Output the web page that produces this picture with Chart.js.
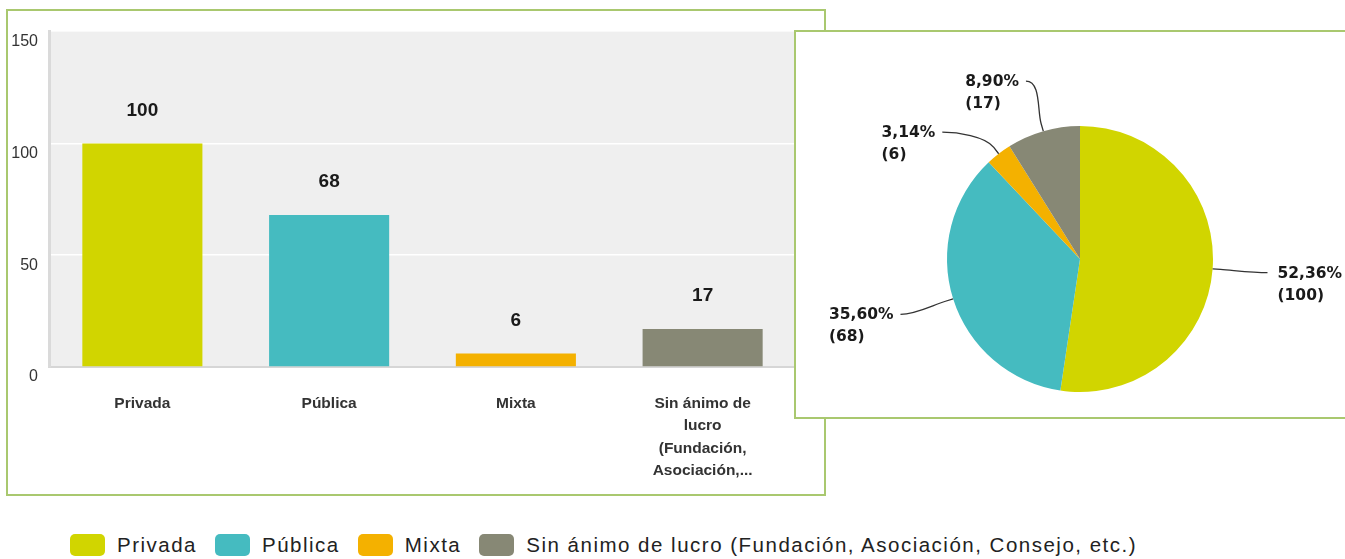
<!DOCTYPE html>
<html>
<head>
<meta charset="utf-8">
<script src="https://cdn.jsdelivr.net/npm/chart.js@4.4.1/dist/chart.umd.min.js"></script>
<style>
  html, body {
    margin: 0;
    padding: 0;
    width: 1345px;
    height: 559px;
    overflow: hidden;
    background: #fff;
    position: relative;
    font-family: "Liberation Sans", Arial, sans-serif;
  }
  .box {
    position: absolute;
    border: 2px solid #a9c86f;
    background: #fff;
  }
  #barBox { left: 6px; top: 9px; width: 816px; height: 483px; }
  #pieBox { left: 794px; top: 30px; width: 600px; height: 385px; }
  canvas { display: block; }
  #legend {
    position: absolute;
    left: 70px;
    top: 534px;
    display: flex;
    align-items: center;
    white-space: nowrap;
  }
  .item { display: flex; align-items: center; margin-right: 18px; }
  .swatch { width: 35px; height: 22px; border-radius: 5px; margin-right: 12px; }
  .label { font-size: 20.5px; letter-spacing: 1.5px; color: #222; line-height: 22px; }
</style>
</head>
<body>
<div class="box" id="barBox"><canvas id="barChart" width="816" height="483"></canvas></div>
<div class="box" id="pieBox"><canvas id="pieChart" width="549" height="383"></canvas></div>
<div id="legend"></div>

<script>
// datos
const categories = ["Privada", "Pública", "Mixta", "Sin ánimo de lucro (Fundación, Asociación, Consejo, etc.)"];
const axisLabels = [["Privada"], ["Pública"], ["Mixta"], ["Sin ánimo de", "lucro", "(Fundación,", "Asociación,..."]];
const counts = [100, 68, 6, 17];
const colors = ["#d1d500", "#45bbc0", "#f4b100", "#878875"];
const yTicks = [0, 50, 100, 150];

const total = counts.reduce((s, v) => s + v, 0);

// leyenda
const legend = document.getElementById("legend");
categories.forEach((name, i) => {
  const item = document.createElement("div");
  item.className = "item";
  item.innerHTML = `<div class="swatch" style="background:${colors[i]}"></div><span class="label">${name}</span>`;
  legend.appendChild(item);
});

// fondo gris del área de trazado
const plotBackground = {
  id: "plotBackground",
  beforeDraw(chart) {
    const { ctx, chartArea } = chart;
    ctx.save();
    ctx.fillStyle = "#efefef";
    ctx.fillRect(chartArea.left, chartArea.top, chartArea.right - chartArea.left, chartArea.bottom - chartArea.top);
    ctx.restore();
  },
};

// valores encima de las barras
const barValues = {
  id: "barValues",
  afterDatasetsDraw(chart) {
    const { ctx } = chart;
    const meta = chart.getDatasetMeta(0);
    ctx.save();
    ctx.font = "bold 19px 'Liberation Sans', Arial, sans-serif";
    ctx.fillStyle = "#1a1a1a";
    ctx.textAlign = "center";
    ctx.textBaseline = "middle";
    meta.data.forEach((bar, i) => {
      ctx.fillText(String(counts[i]), bar.x, bar.y - 33);
    });
    ctx.restore();
  },
};

new Chart(document.getElementById("barChart"), {
  type: "bar",
  data: {
    labels: axisLabels,
    datasets: [{
      data: counts,
      backgroundColor: colors,
      borderWidth: 0,
      barPercentage: 0.643,
      categoryPercentage: 1,
    }],
  },
  options: {
    responsive: false,
    animation: false,
    layout: { padding: { left: 0, right: 28, top: 20, bottom: 0 } },
    plugins: { legend: { display: false }, tooltip: { enabled: false } },
    scales: {
      x: {
        afterFit: (s) => { s.height = 127; },
        grid: { display: false, drawTicks: false },
        border: { display: true, color: "#d6d6d6", width: 2 },
        ticks: {
          padding: 25,
          color: "#333",
          font: { family: "'Liberation Sans', Arial, sans-serif", size: 15.5, weight: "bold", lineHeight: 1.46 },
        },
      },
      y: {
        min: 0,
        max: 150,
        afterFit: (s) => { s.width = 41; },
        afterBuildTicks: (s) => { s.ticks = yTicks.map((v) => ({ value: v })); },
        grid: {
          drawTicks: false,
          color: (c) => (c.tick && (c.tick.value === 0 || c.tick.value === 150) ? "rgba(0,0,0,0)" : "#ffffff"),
          lineWidth: 1.5,
        },
        border: { display: true, color: "#dadada", width: 3 },
        ticks: {
          padding: 11,
          labelOffset: 10,
          color: "#333",
          font: { family: "'Liberation Sans', Arial, sans-serif", size: 16 },
        },
      },
    },
  },
  plugins: [plotBackground, barValues],
});

// etiquetas de la tarta con conectores
const pieLabels = {
  id: "pieLabels",
  afterDraw(chart) {
    const { ctx } = chart;
    const meta = chart.getDatasetMeta(0);
    const gap = 51;
    const dist = 52;
    const items = meta.data.map((arc, i) => {
      const p = arc.getProps(["x", "y", "startAngle", "endAngle", "outerRadius"], true);
      const mid = (p.startAngle + p.endAngle) / 2;
      const R = p.outerRadius + dist;
      return {
        i, cx: p.x, cy: p.y, r: p.outerRadius, R, mid,
        right: Math.cos(mid) >= 0,
        ly: p.y + R * Math.sin(mid),
      };
    });

    [true, false].forEach((side) => {
      const list = items.filter((it) => it.right === side).sort((a, b) => a.ly - b.ly);
      for (let k = 1; k < list.length; k++) {
        if (list[k].ly - list[k - 1].ly < gap) list[k].ly = list[k - 1].ly + gap;
      }
    });

    ctx.save();
    items.forEach((it) => {
      const dy = Math.max(-it.R, Math.min(it.R, it.ly - it.cy));
      const dx = Math.sqrt(it.R * it.R - dy * dy);
      const lx = it.cx + (it.right ? dx : -dx);
      const dir = it.right ? -1 : 1;
      const cos = Math.cos(it.mid), sin = Math.sin(it.mid);
      const ax = it.cx + it.r * cos, ay = it.cy + it.r * sin;
      const bx = it.cx + (it.r + 8) * cos, by = it.cy + (it.r + 8) * sin;
      const kx = it.cx + (it.r + 22) * cos, ky = it.cy + (it.r + 22) * sin;

      ctx.strokeStyle = "#333";
      ctx.lineWidth = 1.3;
      ctx.beginPath();
      ctx.moveTo(lx - dir * 3, it.ly);
      ctx.bezierCurveTo(lx + dir * 12, it.ly, kx, ky, bx, by);
      ctx.lineTo(ax, ay);
      ctx.stroke();

      const pct = (counts[it.i] / total * 100).toFixed(2).replace(".", ",") + "%";
      ctx.font = "bold 15.5px 'DejaVu Sans', Verdana, sans-serif";
      ctx.fillStyle = "#1a1a1a";
      ctx.textBaseline = "middle";
      ctx.textAlign = it.right ? "left" : "right";
      const tx = it.right ? lx + 13 : lx - 10;
      ctx.fillText(pct, tx, it.ly + 1);
      ctx.textAlign = "left";
      const w = ctx.measureText(pct).width;
      ctx.fillText(`(${counts[it.i]})`, it.right ? tx : tx - w, it.ly + 23);
    });
    ctx.restore();
  },
};

new Chart(document.getElementById("pieChart"), {
  type: "pie",
  data: {
    labels: categories,
    datasets: [{ data: counts, backgroundColor: colors, borderWidth: 0 }],
  },
  options: {
    responsive: false,
    animation: false,
    layout: { padding: { left: 151, right: 132, top: 94, bottom: 23 } },
    plugins: { legend: { display: false }, tooltip: { enabled: false } },
  },
  plugins: [pieLabels],
});
</script>
</body>
</html>
